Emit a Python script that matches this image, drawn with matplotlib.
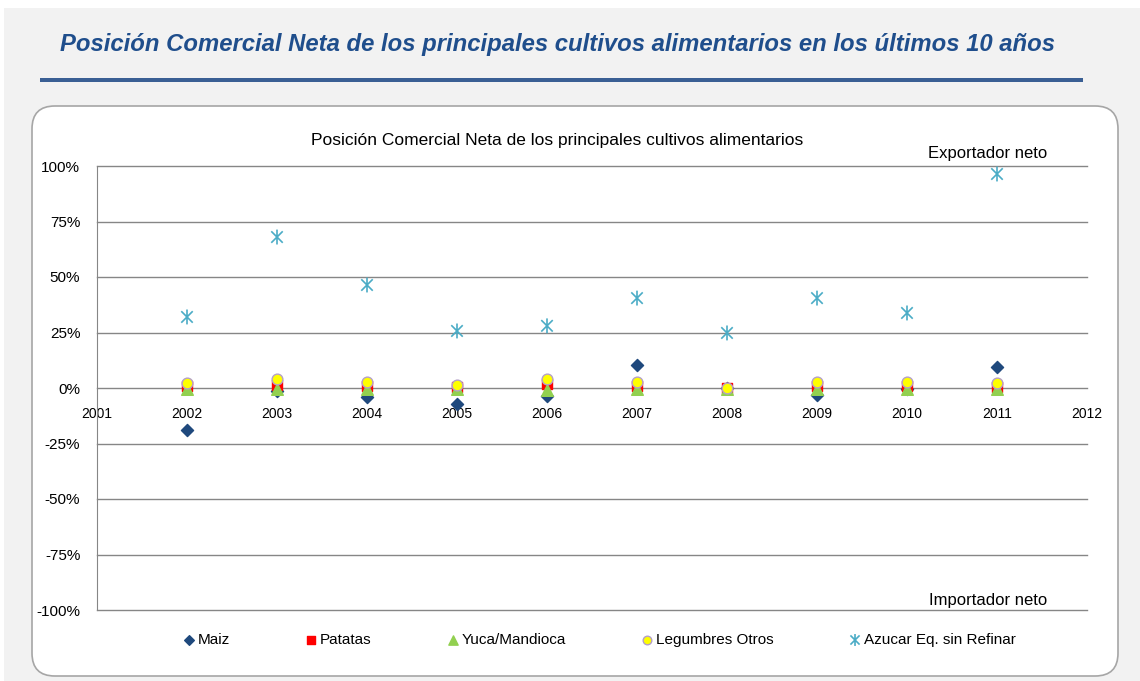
import matplotlib.pyplot as plt
from matplotlib.patches import FancyBboxPatch, Rectangle
from matplotlib.path import Path
from matplotlib import font_manager

# data (net trade position, fraction)
years = [2002, 2003, 2004, 2005, 2006, 2007, 2008, 2009, 2010, 2011]
maiz = [-0.19, -0.015, -0.04, -0.07, -0.035, 0.105, 0.0, -0.03, -0.005, 0.095]
patatas = [0.01, 0.015, 0.01, 0.005, 0.02, 0.01, 0.0, 0.01, 0.01, 0.005]
yuca = [-0.005, -0.005, -0.005, -0.005, -0.01, -0.005, -0.005, -0.005, -0.005, -0.005]
legumbres = [0.023, 0.04, 0.027, 0.014, 0.04, 0.027, 0.0, 0.027, 0.027, 0.023]
azucar = [0.32, 0.68, 0.464, 0.257, 0.28, 0.405, 0.248, 0.405, 0.338, 0.964]
x_ticks = list(range(2001, 2013))
y_ticks = [1.0, 0.75, 0.5, 0.25, 0.0, -0.25, -0.5, -0.75, -1.0]
y_labels = ['100%', '75%', '50%', '25%', '0%', '-25%', '-50%', '-75%', '-100%']

names = {f.name for f in font_manager.fontManager.ttflist}
font = 'Liberation Sans Narrow' if 'Liberation Sans Narrow' in names else 'Liberation Sans'
plt.rcParams['font.family'] = [font, 'DejaVu Sans']

# Excel-style asterisk: an x with a vertical bar
M, L = Path.MOVETO, Path.LINETO
asterisk = Path([(-1, -1), (1, 1), (-1, 1), (1, -1), (0, -1.3), (0, 1.3)], [M, L, M, L, M, L])

fig = plt.figure(figsize=(11.4, 6.81), dpi=100, facecolor='#f2f2f2')

# white strips at the top/left edge
fig.patches.append(Rectangle((0, 1 - 8 / 681), 1, 8 / 681, transform=fig.transFigure,
                             facecolor='white', edgecolor='none', zorder=0))
fig.patches.append(Rectangle((0, 0), 4 / 1140, 1, transform=fig.transFigure,
                             facecolor='white', edgecolor='none', zorder=0))

# heading + bar
fig.text(60 / 1140, 1 - 44 / 681, 'Posición Comercial Neta de los principales cultivos alimentarios en los últimos 10 años',
         fontsize=17.2, fontweight='bold', style='italic', color='#1f4e8c', va='center', ha='left')
fig.patches.append(Rectangle((40 / 1140, 1 - 82 / 681), 1043 / 1140, 4 / 681, transform=fig.transFigure,
                             facecolor='#3a5f94', edgecolor='none', zorder=0))

# white rounded panel
panel = FancyBboxPatch((32 / 1140, 5 / 681), 1086 / 1140, 570 / 681,
                       boxstyle='round,pad=0,rounding_size=0.02', transform=fig.transFigure,
                       facecolor='white', edgecolor='#a6a6a6', linewidth=1.2,
                       mutation_aspect=1140 / 681, zorder=0)
fig.patches.append(panel)

ax = fig.add_axes([97 / 1140, 71 / 681, 990 / 1140, 444 / 681])
ax.set_zorder(2)
ax.set_facecolor('none')
ax.set_xlim(2001, 2012)
ax.set_ylim(-1, 1)

for y in y_ticks:
    ax.axhline(y, color='#868686', linewidth=1, zorder=1, clip_on=False)

ax.scatter(years, maiz, marker='D', s=38, color='#1f497d', zorder=3, label='Maiz')
ax.scatter(years, patatas, marker='s', s=60, color='#ff0000', zorder=4, label='Patatas')
ax.scatter(years, yuca, marker='^', s=70, color='#92d050', zorder=5, label='Yuca/Mandioca')
ax.scatter(years, legumbres, marker='o', s=60, color='#ffff00', edgecolors='#b4a0c8', linewidths=1,
           zorder=6, label='Legumbres Otros')
ax.scatter(years, azucar, marker=asterisk, s=115, facecolors='none', edgecolors='#4bacc6', linewidths=1.2,
           zorder=7, label='Azucar Eq. sin Refinar')

ax.set_yticks(y_ticks)
ax.set_yticklabels(y_labels, fontsize=11)
ax.set_xticks(x_ticks)
ax.set_xticklabels([str(t) for t in x_ticks], fontsize=11)
ax.spines['bottom'].set_position(('data', 0))
ax.spines['bottom'].set_visible(False)
ax.spines['top'].set_visible(False)
ax.spines['right'].set_visible(False)
ax.spines['left'].set_color('#868686')
ax.tick_params(axis='x', length=0, pad=14)
ax.tick_params(axis='y', length=0, pad=12)

ax.text(2006.11, 1.115, 'Posición Comercial Neta de los principales cultivos alimentarios',
        fontsize=12.5, ha='center', va='center')
ax.text(2010.9, 1.055, 'Exportador neto', fontsize=12, ha='center', va='center')
ax.text(2010.9, -0.955, 'Importador neto', fontsize=12, ha='center', va='center')

handles, labels = ax.get_legend_handles_labels()
leg = fig.legend(handles, labels, loc='center', bbox_to_anchor=(0.525, 41 / 681), ncol=5, frameon=False,
                 fontsize=11, handletextpad=0.1, columnspacing=4.8, handlelength=1, markerscale=0.8)
leg.set_zorder(3)

fig.savefig('out.png', dpi=100, facecolor=fig.get_facecolor())
